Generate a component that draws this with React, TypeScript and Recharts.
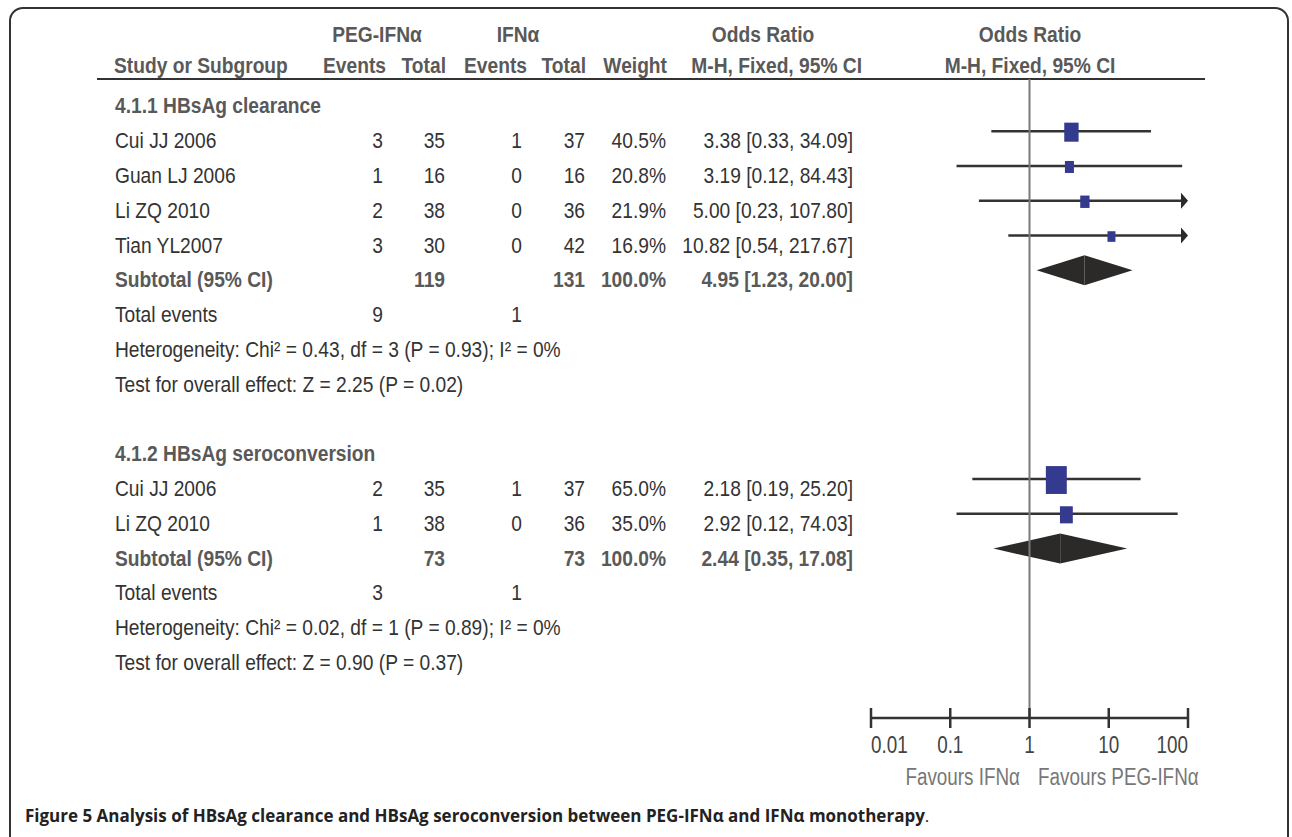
import React from "react";
import { ComposedChart, ReferenceLine, Scatter, XAxis, YAxis } from "recharts";

// ---- data ----
const groupNames = ["4.1.1 HBsAg clearance", "4.1.2 HBsAg seroconversion"];
const groupSizes = [4, 2];

const studyNames = ["Cui JJ 2006", "Guan LJ 2006", "Li ZQ 2010", "Tian YL2007", "Cui JJ 2006", "Li ZQ 2010"];
const pegEvents = [3, 1, 2, 3, 2, 1];
const pegTotal = [35, 16, 38, 30, 35, 38];
const ifnEvents = [1, 0, 0, 0, 1, 0];
const ifnTotal = [37, 16, 36, 42, 37, 36];
const weights = [40.5, 20.8, 21.9, 16.9, 65.0, 35.0];
const oddsRatio = [3.38, 3.19, 5.0, 10.82, 2.18, 2.92];
const ciLow = [0.33, 0.12, 0.23, 0.54, 0.19, 0.12];
const ciHigh = [34.09, 84.43, 107.8, 217.67, 25.2, 74.03];

const subPegTotal = [119, 73];
const subIfnTotal = [131, 73];
const subOdds = [4.95, 2.44];
const subLow = [1.23, 0.35];
const subHigh = [20.0, 17.08];
const totalPegEvents = [9, 3];
const totalIfnEvents = [1, 1];
const heterogeneity = [
  "Heterogeneity: Chi² = 0.43, df = 3 (P = 0.93); I² = 0%",
  "Heterogeneity: Chi² = 0.02, df = 1 (P = 0.89); I² = 0%",
];
const overallEffect = [
  "Test for overall effect: Z = 2.25 (P = 0.02)",
  "Test for overall effect: Z = 0.90 (P = 0.37)",
];

const axisTicks = [0.01, 0.1, 1, 10, 100];
const AXIS_MAX = 100;

// ---- layout ----
const W = 1292;
const H = 837;
const FONT = '"Liberation Sans", Arial, sans-serif';
const NARROW = 0.873; // the original uses a condensed face
const TEXT = "#333";
const BOLD = "#595959";
const col = { study: 115, pegEv: 383, pegTot: 445, ifnEv: 522, ifnTot: 585, weight: 666, or: 853 };

type Row = { y: number; kind: string; idx: number };
type Point = { y: number; or: number; lo: number; hi: number; weight: number };

const rows: Row[] = [];
const studyPoints: Point[] = [];
const subtotalPoints: Point[] = [];
let r = 0;
let s = 0;
groupNames.forEach((_, g) => {
  rows.push({ y: r + 0.5, kind: "group", idx: g });
  r++;
  for (let i = 0; i < groupSizes[g]; i++) {
    rows.push({ y: r + 0.5, kind: "study", idx: s });
    studyPoints.push({ y: r + 0.5, or: oddsRatio[s], lo: ciLow[s], hi: ciHigh[s], weight: weights[s] });
    s++;
    r++;
  }
  rows.push({ y: r + 0.5, kind: "subtotal", idx: g });
  subtotalPoints.push({ y: r + 0.5, or: subOdds[g], lo: subLow[g], hi: subHigh[g], weight: 100 });
  r++;
  rows.push({ y: r + 0.5, kind: "events", idx: g });
  r++;
  rows.push({ y: r + 0.5, kind: "het", idx: g });
  r++;
  rows.push({ y: r + 0.5, kind: "test", idx: g });
  r++;
  r++; // blank line between subgroups
});

const orText = (o: number, l: number, h: number) => `${o.toFixed(2)} [${l.toFixed(2)}, ${h.toFixed(2)}]`;

function T({ x, y, anchor = "start", bold = false, fill = TEXT, size = 22, sx = NARROW, children }: any) {
  return (
    <text
      transform={`translate(${x},${y}) scale(${sx},1)`}
      textAnchor={anchor}
      fontFamily={FONT}
      fontSize={size}
      fontWeight={bold ? 700 : 400}
      fill={fill}
    >
      {children}
    </text>
  );
}

function RowTick(props: any) {
  const { y, payload } = props;
  const row = rows.find((d) => Math.abs(d.y - payload.value) < 0.01);
  if (!row) return <g />;
  const b = y + 17;
  const i = row.idx;
  if (row.kind === "group") return <T x={col.study} y={b} bold fill={BOLD}>{groupNames[i]}</T>;
  if (row.kind === "study")
    return (
      <g>
        <T x={col.study} y={b}>{studyNames[i]}</T>
        <T x={col.pegEv} y={b} anchor="end">{pegEvents[i]}</T>
        <T x={col.pegTot} y={b} anchor="end">{pegTotal[i]}</T>
        <T x={col.ifnEv} y={b} anchor="end">{ifnEvents[i]}</T>
        <T x={col.ifnTot} y={b} anchor="end">{ifnTotal[i]}</T>
        <T x={col.weight} y={b} anchor="end">{weights[i].toFixed(1)}%</T>
        <T x={col.or} y={b} anchor="end">{orText(oddsRatio[i], ciLow[i], ciHigh[i])}</T>
      </g>
    );
  if (row.kind === "subtotal")
    return (
      <g>
        <T x={col.study} y={b} bold fill={BOLD}>Subtotal (95% CI)</T>
        <T x={col.pegTot} y={b} anchor="end" bold fill={BOLD}>{subPegTotal[i]}</T>
        <T x={col.ifnTot} y={b} anchor="end" bold fill={BOLD}>{subIfnTotal[i]}</T>
        <T x={col.weight} y={b} anchor="end" bold fill={BOLD}>100.0%</T>
        <T x={col.or} y={b} anchor="end" bold fill={BOLD}>{orText(subOdds[i], subLow[i], subHigh[i])}</T>
      </g>
    );
  if (row.kind === "events")
    return (
      <g>
        <T x={col.study} y={b}>Total events</T>
        <T x={col.pegEv} y={b} anchor="end">{totalPegEvents[i]}</T>
        <T x={col.ifnEv} y={b} anchor="end">{totalIfnEvents[i]}</T>
      </g>
    );
  if (row.kind === "het") return <T x={col.study} y={b}>{heterogeneity[i]}</T>;
  return <T x={col.study} y={b}>{overallEffect[i]}</T>;
}

function AxisTick(props: any) {
  const { x, y, payload, index } = props;
  const anchor = index === 0 ? "start" : index === axisTicks.length - 1 ? "end" : "middle";
  return (
    <g>
      <line x1={x} x2={x} y1={y - 10} y2={y + 10} stroke="#333" strokeWidth={2.5} />
      <T x={x} y={y + 35} anchor={anchor} fill="#444" size={23} sx={0.82}>{String(payload.value)}</T>
    </g>
  );
}

const ciShape = (arrow: boolean) => (p: any) => (
  <g>
    <line x1={p.x1} y1={p.y1} x2={arrow ? p.x2 - 6 : p.x2} y2={p.y2} stroke="#333" strokeWidth={2.4} />
    {arrow && <polygon points={`${p.x2},${p.y2} ${p.x2 - 7},${p.y2 - 8} ${p.x2 - 7},${p.y2 + 8}`} fill="#2b2a29" />}
  </g>
);

const DIAMOND_H = 15;
const leftHalf = (p: any) => (
  <polygon points={`${p.x1},${p.y1} ${p.x2},${p.y2 - DIAMOND_H} ${p.x2},${p.y2 + DIAMOND_H}`} fill="#2b2a29" />
);
const rightHalf = (p: any) => (
  <polygon points={`${p.x1},${p.y1 - DIAMOND_H} ${p.x2},${p.y2} ${p.x1},${p.y1 + DIAMOND_H}`} fill="#2b2a29" />
);

const square = (p: any) => {
  const w = 3.4 + 0.27 * p.payload.weight;
  const h = w * 1.33;
  return <rect x={p.cx - w / 2} y={p.cy - h / 2 + 1} width={w} height={h} fill="#343a8e" />;
};

export default function App() {
  return (
    <div style={{ position: "absolute", left: 0, top: 0, width: W, height: H, overflow: "hidden", background: "#fff" }}>
      <div
        style={{
          position: "absolute",
          left: 9,
          top: 7,
          width: 1280,
          height: 860,
          border: "2px solid #333",
          borderRadius: 14,
          boxSizing: "border-box",
        }}
      />
      <svg width={W} height={H} style={{ position: "absolute", left: 0, top: 0 }}>
        <g>
          <T x={377} y={42} anchor="middle" bold fill={BOLD}>PEG-IFNα</T>
          <T x={518} y={42} anchor="middle" bold fill={BOLD}>IFNα</T>
          <T x={763} y={42} anchor="middle" bold fill={BOLD}>Odds Ratio</T>
          <T x={1030} y={42} anchor="middle" bold fill={BOLD}>Odds Ratio</T>
          <T x={114} y={73} bold fill={BOLD}>Study or Subgroup</T>
          <T x={386} y={73} anchor="end" bold fill={BOLD}>Events</T>
          <T x={446} y={73} anchor="end" bold fill={BOLD}>Total</T>
          <T x={527} y={73} anchor="end" bold fill={BOLD}>Events</T>
          <T x={586} y={73} anchor="end" bold fill={BOLD}>Total</T>
          <T x={667} y={73} anchor="end" bold fill={BOLD}>Weight</T>
          <T x={862} y={73} anchor="end" bold fill={BOLD}>M-H, Fixed, 95% CI</T>
          <T x={1030} y={73} anchor="middle" bold fill={BOLD}>M-H, Fixed, 95% CI</T>
          <line x1={97} x2={1205} y1={79} y2={79} stroke="#333" strokeWidth={2} />
          <T x={1020} y={785} anchor="end" fill="#777" size={23} sx={0.82}>Favours IFNα</T>
          <T x={1038} y={785} fill="#777" size={23} sx={0.82}>Favours PEG-IFNα</T>
        </g>
      </svg>
      <div style={{ position: "absolute", left: 0, top: 0 }}>
        <ComposedChart width={W} height={H} margin={{ top: 79, right: W - 1188, bottom: H - 719, left: 870 }}>
          <XAxis
            type="number"
            dataKey="or"
            scale="log"
            domain={[0.01, AXIS_MAX]}
            ticks={axisTicks}
            interval={0}
            allowDataOverflow
            height={1}
            tickSize={0}
            tickMargin={0}
            tickLine={false}
            axisLine={{ stroke: "#333", strokeWidth: 2.5 }}
            tick={<AxisTick />}
          />
          <YAxis
            type="number"
            dataKey="y"
            reversed
            domain={[0, 18.37]}
            ticks={rows.map((d) => d.y)}
            interval={0}
            allowDataOverflow
            width={1}
            tickSize={0}
            tickMargin={0}
            tickLine={false}
            axisLine={false}
            tick={<RowTick />}
          />
          {studyPoints.map((d, i) => (
            <ReferenceLine
              key={`ci-${i}`}
              segment={[
                { x: d.lo, y: d.y },
                { x: Math.min(d.hi, AXIS_MAX), y: d.y },
              ]}
              ifOverflow="visible"
              shape={ciShape(d.hi > AXIS_MAX)}
            />
          ))}
          <Scatter data={studyPoints} isAnimationActive={false} shape={square} />
          {subtotalPoints.map((d, i) => (
            <ReferenceLine
              key={`dl-${i}`}
              segment={[
                { x: d.lo, y: d.y },
                { x: d.or, y: d.y },
              ]}
              ifOverflow="visible"
              shape={leftHalf}
            />
          ))}
          {subtotalPoints.map((d, i) => (
            <ReferenceLine
              key={`dr-${i}`}
              segment={[
                { x: d.or, y: d.y },
                { x: d.hi, y: d.y },
              ]}
              ifOverflow="visible"
              shape={rightHalf}
            />
          ))}
          <ReferenceLine x={1} stroke="#7a7a7a" strokeWidth={2} ifOverflow="visible" />
        </ComposedChart>
      </div>
      <div
        style={{
          position: "absolute",
          left: 25,
          top: 804,
          fontFamily: '"Open Sans", "Noto Sans", sans-serif',
          fontSize: 17,
          fontWeight: 700,
          color: "#222",
          whiteSpace: "nowrap",
          lineHeight: "24px",
        }}
      >
        Figure 5 Analysis of HBsAg clearance and HBsAg seroconversion between PEG-IFNα and IFNα monotherapy
        <span style={{ fontWeight: 400 }}>.</span>
      </div>
    </div>
  );
}
